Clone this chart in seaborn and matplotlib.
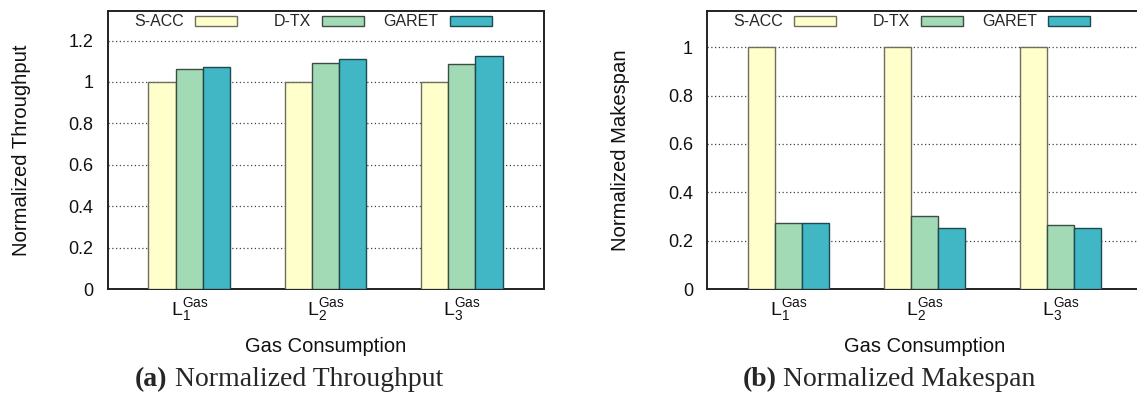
import matplotlib
matplotlib.use("Agg")
import matplotlib.pyplot as plt
import matplotlib.colors as mcolors
import matplotlib.transforms as mtransforms
from matplotlib.patches import Patch
from matplotlib.legend import Legend
from matplotlib.ticker import FuncFormatter
import seaborn as sns
import pandas as pd

# ---- data ----
levels = ["L1", "L2", "L3"]
tick_labels = [r"$\mathregular{L_1^{Gas}}$", r"$\mathregular{L_2^{Gas}}$", r"$\mathregular{L_3^{Gas}}$"]
methods = ["S-ACC", "D-TX", "GARET"]
throughput_sacc = [1.0, 1.0, 1.0]
throughput_dtx = [1.061, 1.092, 1.089]
throughput_garet = [1.072, 1.111, 1.124]
makespan_sacc = [1.0, 1.0, 1.0]
makespan_dtx = [0.271, 0.302, 0.266]
makespan_garet = [0.271, 0.254, 0.254]
colors = ["#ffffcc", "#a1dab4", "#41b6c4"]
edge_colors = ["#6e6e5e", "#3c4c44", "#1c4a50"]


def long_df(a, b, c):
    rows = []
    for m, vals in zip(methods, [a, b, c]):
        for lv, v in zip(levels, vals):
            rows.append({"level": lv, "method": m, "value": v})
    return pd.DataFrame(rows)


df_tp = long_df(throughput_sacc, throughput_dtx, throughput_garet)
df_ms = long_df(makespan_sacc, makespan_dtx, makespan_garet)

sns.set_theme(style="white")
plt.rcParams["font.family"] = ["Liberation Sans", "DejaVu Sans"]

W, H = 1137, 398
fig = plt.figure(figsize=(W / 100, H / 100), dpi=100)


def fx(px):
    return px / W


def fy(py):
    return 1 - py / H


ax1 = fig.add_axes([fx(107.5), fy(289), fx(543.6 - 107.5), (289 - 10.5) / H])
ax2 = fig.add_axes([fx(707), fy(289), fx(1142 - 707), (289 - 10.5) / H])

palette = dict(zip(methods, colors))
edge_map = dict(zip(colors, edge_colors))
legend_anchor_x = [0.299, 0.591, 0.883]


def draw(ax, df, ylim, yticks, ylabel):
    sns.barplot(data=df, x="level", y="value", hue="method", order=levels,
                hue_order=methods, palette=palette, width=0.6, gap=0,
                saturation=1, ax=ax, legend=False, zorder=3)
    for p in ax.patches:
        fc = mcolors.to_hex(p.get_facecolor())
        p.set_edgecolor(edge_map.get(fc, "#333333"))
        p.set_linewidth(1.0)
    ax.set_xlim(-0.6, 2.6)
    ax.set_ylim(*ylim)
    ax.set_yticks(yticks)
    ax.yaxis.set_major_formatter(FuncFormatter(lambda v, pos: "%g" % round(v, 2)))
    ax.set_xticks(range(len(levels)))
    ax.set_xticklabels(tick_labels, fontsize=14)
    offset = mtransforms.ScaledTranslation(-5 / 100, 0, fig.dpi_scale_trans)
    for lab in ax.get_xticklabels():
        lab.set_transform(lab.get_transform() + offset)
    ax.tick_params(axis="both", length=0, colors="#111111")
    ax.tick_params(axis="y", pad=10, labelsize=13)
    ax.tick_params(axis="x", pad=5)
    ax.set_xlabel("Gas Consumption", fontsize=14.5, labelpad=10, color="#111111")
    ax.set_ylabel(ylabel, fontsize=14.6, labelpad=27, color="#111111")
    ax.yaxis.grid(True, linestyle=(0, (1, 2)), color="#444444", linewidth=0.9, zorder=1)
    ax.xaxis.grid(False)
    ax.set_axisbelow(True)
    for s in ax.spines.values():
        s.set_color("#222222")
        s.set_linewidth(1.4)
    for m, c, e, lx in zip(methods, colors, edge_colors, legend_anchor_x):
        h = Patch(facecolor=c, edgecolor=e, linewidth=1.0)
        leg = Legend(ax, [h], [m], markerfirst=False, frameon=False,
                     loc="upper right", bbox_to_anchor=(lx, 0.989),
                     bbox_transform=ax.transAxes,
                     borderaxespad=0, borderpad=0.05, fontsize=11.5,
                     handlelength=2.63, handleheight=0.56, handletextpad=0.69)
        ax.add_artist(leg)


draw(ax1, df_tp, (0, 1.345), [0, 0.2, 0.4, 0.6, 0.8, 1.0, 1.2],
     "Normalized Throughput")
draw(ax2, df_ms, (0, 1.152), [0, 0.2, 0.4, 0.6, 0.8, 1.0],
     "Normalized Makespan")


# captions
def caption(cx, label, rest):
    renderer = fig.canvas.get_renderer()
    t1 = fig.text(0, fy(380), label, fontsize=20, fontweight="bold",
                  family="Liberation Serif", va="center", ha="left")
    t2 = fig.text(0, fy(380), " " + rest, fontsize=20,
                  family="Liberation Serif", va="center", ha="left")
    w1 = t1.get_window_extent(renderer).width
    w2 = t2.get_window_extent(renderer).width
    x0 = cx - (w1 + w2) / 2
    t1.set_x(fx(x0))
    t2.set_x(fx(x0 + w1))


caption(289, "(a)", "Normalized Throughput")
caption(889, "(b)", "Normalized Makespan")

fig.savefig("out.png", dpi=100)
